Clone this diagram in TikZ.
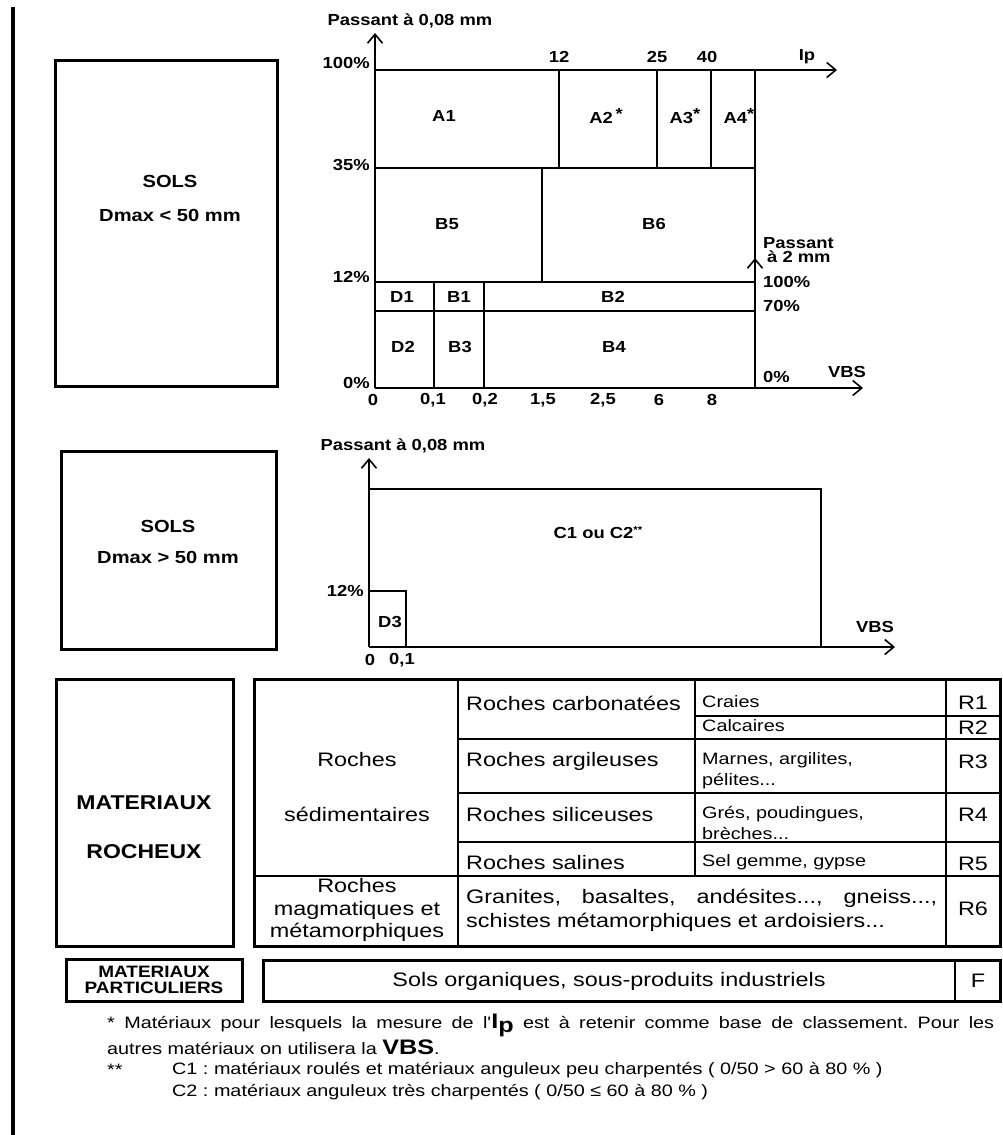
\documentclass[tikz,border=0pt]{standalone}
\usepackage{fontspec}
\setmainfont{Liberation Sans}
\newfontfamily\widefont[FakeStretch=1.2]{Liberation Sans}
\newfontfamily\boldwide[FakeStretch=1.15]{Liberation Sans}
\usetikzlibrary{arrows.meta}
\frenchspacing

\tikzset{
  chartlbl/.style={font=\boldwide\bfseries\fontsize{16}{18}\selectfont,inner sep=0pt},
  boxtext/.style={font=\boldwide\bfseries\fontsize{17.5}{20}\selectfont,inner sep=0pt},
  rocktext/.style={font=\boldwide\bfseries\fontsize{20}{22}\selectfont,inner sep=0pt},
  partictext/.style={font=\boldwide\bfseries\fontsize{16.5}{19}\selectfont,inner sep=0pt,align=center},
  tabtext/.style={font=\widefont\fontsize{19.5}{22.5}\selectfont,inner sep=0pt},
  smalltext/.style={font=\widefont\fontsize{16.5}{21}\selectfont,inner sep=0pt,align=left},
  notetext/.style={font=\widefont\fontsize{16.5}{18}\selectfont,inner sep=0pt,anchor=west},
  axis/.style={line width=2.6pt,-{Straight Barb[length=9pt,width=15pt,line width=1.6pt]}},
  cell/.style={line width=1.8pt},
  boxline/.style={line width=3pt},
}

\begin{document}
\begin{tikzpicture}[x=1pt,y=-1pt]
\useasboundingbox (0,0) rectangle (1002,1135);
\draw[line width=3.5pt] (13,7) -- (13,1135);

\draw[boxline] (55,60) rectangle (277,386);
\node[boxtext] (sols1) at (170,181) {SOLS};
\node[boxtext] (dmax1) at (170,215) {Dmax < 50 mm};

\draw[axis] (375,388) -- (375,33);
\draw[axis] (375,388) -- (863,388);
\draw[cell,-{Straight Barb[length=9pt,width=15pt,line width=1.6pt]}] (375,70) -- (837,70);
\draw[cell] (755,388) -- (755,70);
\draw[axis,line width=1.8pt] (755,300) -- (755,258);
\draw[cell] (375,168) -- (755,168);
\draw[cell] (375,282) -- (755,282);
\draw[cell] (375,311) -- (755,311);
\draw[cell] (559,70) -- (559,168) (657,70) -- (657,168) (711,70) -- (711,168);
\draw[cell] (542,168) -- (542,282);
\draw[cell] (434,282) -- (434,388) (484,282) -- (484,388);

\node[chartlbl] (pass1) at (410,21) {Passant à 0,08 mm};
\node[chartlbl,anchor=east] at (370,63) {100\%};
\node[chartlbl,anchor=east] at (370,165) {35\%};
\node[chartlbl,anchor=east] at (370,277) {12\%};
\node[chartlbl,anchor=east] at (370,383) {0\%};
\node[chartlbl] at (373,400) {0};
\node[chartlbl] at (433,400) {0,1};
\node[chartlbl] at (485,400) {0,2};
\node[chartlbl] at (543,400) {1,5};
\node[chartlbl] at (603,400) {2,5};
\node[chartlbl] at (659,400) {6};
\node[chartlbl] at (712,400) {8};
\node[chartlbl] at (559,57) {12};
\node[chartlbl] at (657,57) {25};
\node[chartlbl] at (707,57) {40};
\node[chartlbl] (ip) at (807,57) {Ip};
\node[chartlbl,anchor=west] (pass2) at (763,243) {Passant};
\node[chartlbl,anchor=west] (pass2b) at (767,257) {à 2 mm};
\node[chartlbl,anchor=west] at (763,282) {100\%};
\node[chartlbl,anchor=west] at (763,306) {70\%};
\node[chartlbl,anchor=west] at (763,377) {0\%};
\node[chartlbl] (vbs1) at (847,372) {VBS};

\node[chartlbl] (a1) at (444,116) {A1};
\node[chartlbl] (a2) at (606,116) {A2\,\raisebox{0.55ex}{*}};
\node[chartlbl] (a3) at (685,116) {A3\raisebox{0.55ex}{*}};
\node[chartlbl] (a4) at (739,116) {A4\raisebox{0.55ex}{*}};
\node[chartlbl] (b5) at (447,224) {B5};
\node[chartlbl] (b6) at (654,224) {B6};
\node[chartlbl] (d1) at (402,297) {D1};
\node[chartlbl] (b1) at (459,297) {B1};
\node[chartlbl] (b2) at (613,297) {B2};
\node[chartlbl] (d2) at (403,347) {D2};
\node[chartlbl] (b3) at (460,347) {B3};
\node[chartlbl] (b4) at (614,347) {B4};

\draw[boxline] (61,451) rectangle (276,649);
\node[boxtext] (sols2) at (168,526) {SOLS};
\node[boxtext] (dmax2) at (168,557) {Dmax > 50 mm};
\draw[axis] (369,647) -- (369,458);
\draw[axis] (369,647) -- (895,647);
\draw[cell] (369,489) -- (821,489) -- (821,647);
\draw[cell] (369,591) -- (406,591) -- (406,647);
\node[chartlbl] (pass3) at (403,446) {Passant à 0,08 mm};
\node[chartlbl,anchor=east] at (364,591) {12\%};
\node[chartlbl] (d3) at (390,622) {D3};
\node[chartlbl] (c1c2) at (598,533) {C1 ou C2\raisebox{0.6ex}{\fontsize{10}{10}\selectfont**}};
\node[chartlbl] (vbs2) at (875,627) {VBS};
\node[chartlbl] at (370,660) {0};
\node[chartlbl] at (402,660) {0,1};

\draw[boxline] (56,679) rectangle (233,946);
\node[rocktext] (mat) at (144,803) {MATERIAUX};
\node[rocktext] (roch) at (144,852) {ROCHEUX};
\draw[boxline] (254,679) rectangle (1000,946);
\draw[cell] (458,679) -- (458,946) (695,679) -- (695,876) (946,679) -- (946,946);
\draw[cell] (695,716) -- (1000,716);
\draw[cell] (458,739) -- (1000,739) (458,793) -- (1000,793) (458,842) -- (1000,842);
\draw[cell] (254,876) -- (1000,876);

\node[tabtext] at (357,760) {Roches};
\node[tabtext] at (357,814) {sédimentaires};
\node[tabtext,align=center] at (357,910) {Roches\\magmatiques et\\métamorphiques};
\node[tabtext,anchor=west] at (466,703) {Roches carbonatées};
\node[tabtext,anchor=west] at (466,761) {Roches argileuses};
\node[tabtext,anchor=west] at (466,815) {Roches siliceuses};
\node[tabtext,anchor=west] at (466,863) {Roches salines};
\node[smalltext,anchor=west] at (702,702) {Craies};
\node[smalltext,anchor=west] at (702,726) {Calcaires};
\node[smalltext,anchor=west] at (702,771) {Marnes, argilites,\\pélites...};
\node[smalltext,anchor=west] at (702,823) {Grés, poudingues,\\brèches...};
\node[smalltext,anchor=west] at (702,862) {Sel gemme, gypse};
\node[tabtext,anchor=west] at (466,898) {\makebox[471pt][s]{Granites, basaltes, andésites..., gneiss...,}};
\node[tabtext,anchor=west] at (466,922) {schistes métamorphiques et ardoisiers...};
\node[tabtext] (r1) at (973,703) {R1};
\node[tabtext] (r2) at (973,728) {R2};
\node[tabtext] (r3) at (973,762) {R3};
\node[tabtext] (r4) at (973,815) {R4};
\node[tabtext] (r5) at (973,864) {R5};
\node[tabtext] (r6) at (973,909) {R6};

\draw[boxline] (66,959) rectangle (242,1001);
\node[partictext] (partic) at (154,980) {MATERIAUX\\[-3pt]PARTICULIERS};
\draw[boxline] (263,960) rectangle (1000,1001);
\draw[cell] (955,960) -- (955,1001);
\node[tabtext] (orga) at (609,981) {Sols organiques, sous-produits industriels};
\node[tabtext] (f) at (978,981) {F};

\node[notetext] (note1) at (107,1025) {\makebox[887pt][s]{* Matériaux pour lesquels la mesure de l'{\bfseries\fontsize{21}{21}\selectfont I\raisebox{-0.35ex}{p}} est à retenir comme base de classement. Pour les}};
\node[notetext] (note2) at (107,1047) {autres matériaux on utilisera la {\bfseries\fontsize{21}{21}\selectfont VBS}.};
\node[notetext] (note3) at (107,1070) {**};
\node[notetext] (note4) at (172,1070) {C1 : matériaux roulés et matériaux anguleux peu charpentés ( 0/50 > 60 à 80 \% )};
\node[notetext] (note5) at (172,1092) {C2 : matériaux anguleux très charpentés ( 0/50 ≤ 60 à 80 \% )};
\end{tikzpicture}
\end{document}
